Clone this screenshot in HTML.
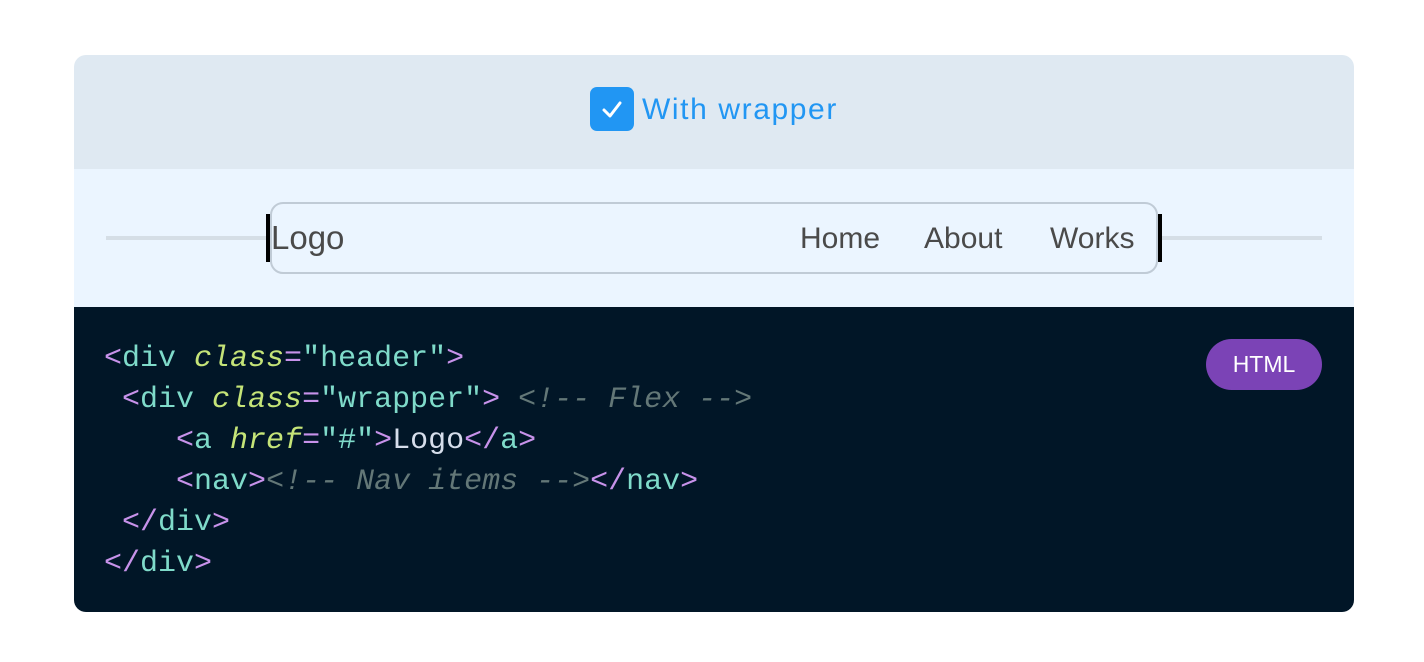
<!DOCTYPE html>
<html><head><meta charset="utf-8"><style>
body{margin:0;width:1424px;height:662px;background:#fff;position:relative;overflow:hidden;font-family:"Liberation Sans",sans-serif}
.a{position:absolute}
.card{left:74px;top:55px;width:1280px;height:557px;border-radius:12px;overflow:hidden}
.code{font-family:"Liberation Mono",monospace;font-size:30px;line-height:41px;color:#7fdbca;white-space:pre;left:104px;top:339px}
.p{color:#c792ea}.t{color:#7fdbca}.at{color:#c5e478;font-style:italic}.c{color:#637777;font-style:italic}.w{color:#d6deeb}
.nav{font-size:30px;color:#4a4a4a;top:222px;line-height:34px}
</style></head><body>
<div class="a card">
 <div class="a" style="left:0;top:0;width:1280px;height:114px;background:#dfe9f2"></div>
 <div class="a" style="left:0;top:114px;width:1280px;height:138px;background:#ebf5ff"></div>
 <div class="a" style="left:0;top:252px;width:1280px;height:305px;background:#011627"></div>
</div>
<div class="a" style="left:590px;top:87px;width:44px;height:44px;background:#2196f3;border-radius:7px"></div>
<svg class="a" style="left:590px;top:87px" width="44" height="44"><path d="M14 23 L20 29 L30 16" stroke="#fff" stroke-width="3" fill="none" stroke-linecap="round" stroke-linejoin="round"/></svg>
<div class="a" style="left:642px;top:92px;font-size:30px;line-height:36px;color:#2196f3;letter-spacing:1.6px">With wrapper</div>
<div class="a" style="left:106px;top:236px;width:160px;height:4px;background:#d5dee6"></div>
<div class="a" style="left:1162px;top:236px;width:160px;height:4px;background:#d5dee6"></div>
<div class="a" style="left:270px;top:202px;width:884px;height:68px;border:2px solid #c0cbd6;border-radius:13px"></div>
<div class="a" style="left:266px;top:214px;width:4px;height:48px;background:#000"></div>
<div class="a" style="left:1158px;top:214px;width:4px;height:48px;background:#000"></div>
<div class="a nav" style="left:271px;font-size:33px;top:221px;">Logo</div>
<div class="a nav" style="left:800px">Home</div>
<div class="a nav" style="left:924px">About</div>
<div class="a nav" style="left:1050px">Works</div>
<div class="a" style="left:1206px;top:339px;width:116px;height:51px;border-radius:26px;background:#7b43b6;color:#fff;font-size:23px;line-height:51px;text-align:center">HTML</div>
<div class="a code"><span class="p">&lt;</span>div <span class="at">class</span><span class="p">=</span>"header"<span class="p">&gt;</span>
 <span class="p">&lt;</span>div <span class="at">class</span><span class="p">=</span>"wrapper"<span class="p">&gt;</span> <span class="c">&lt;!-- Flex --&gt;</span>
    <span class="p">&lt;</span>a <span class="at">href</span><span class="p">=</span>"#"<span class="p">&gt;</span><span class="w">Logo</span><span class="p">&lt;/</span>a<span class="p">&gt;</span>
    <span class="p">&lt;</span>nav<span class="p">&gt;</span><span class="c">&lt;!-- Nav items --&gt;</span><span class="p">&lt;/</span>nav<span class="p">&gt;</span>
 <span class="p">&lt;/</span>div<span class="p">&gt;</span>
<span class="p">&lt;/</span>div<span class="p">&gt;</span></div>
</body></html>
